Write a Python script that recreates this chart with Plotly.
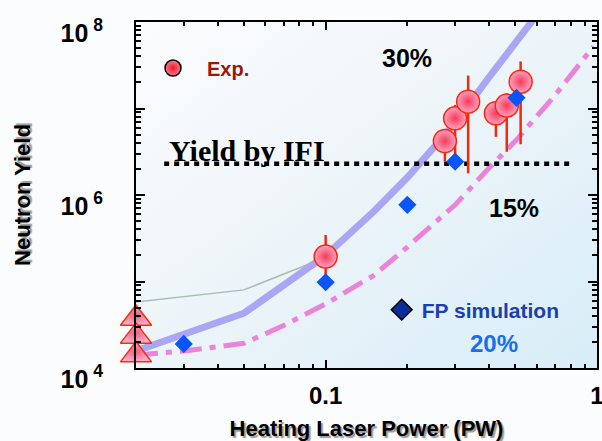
import base64
import plotly.graph_objects as go

# ---------------- data ----------------
# Experimental neutron yield (red circles) with asymmetric error bars
exp_x = [0.1, 0.275, 0.30, 0.335, 0.424, 0.465, 0.523]
exp_y = [1.94e5, 4.2e6, 7.7e6, 1.2e7, 8.8e6, 1.08e7, 2.04e7]
exp_hi = [3.45e5, 4.2e6, 1.1e7, 2.4e7, 8.8e6, 1.5e7, 3.5e7]
exp_lo = [1.19e5, 2.43e6, 2.9e6, 1.78e6, 4.7e6, 3.16e6, 3.86e6]

# Triangles on the left axis
tri_x = [0.02, 0.02, 0.02]
tri_y = [3.74e4, 2.32e4, 1.41e4]

# FP simulation (blue diamonds)
fp_x = [0.030, 0.10, 0.20, 0.30, 0.505]
fp_y = [1.9e4, 9.8e4, 7.7e5, 2.43e6, 1.33e7]

# 30% coupling curve (lavender)
c30_x = [0.02, 0.05, 0.1, 0.15, 0.2, 0.3, 0.4, 0.5, 0.58]
c30_y = [1.57e4, 4.3e4, 2.0e5, 6.4e5, 1.59e6, 6.8e6, 2.3e7, 5.6e7, 1.05e8]

# 15% coupling curve (pink dash-dot)
c15_x = [0.02, 0.03, 0.05, 0.07, 0.1, 0.15, 0.2, 0.3, 0.4, 0.5, 0.7, 0.97]
c15_y = [1.41e4, 1.57e4, 1.93e4, 3.1e4, 5.5e4, 1.17e5, 2.5e5, 7.7e5, 2.05e6, 4.2e6, 1.42e7, 5.2e7]

# thin grey curve
grey_x = [0.02, 0.05, 0.085, 0.1]
grey_y = [5.8e4, 8.0e4, 1.55e5, 2.0e5]

# "Yield by IFI" level
ifi_x = [0.0254, 0.815]
ifi_y = [2.3e6, 2.3e6]

# axis ticks
x_tickvals = [0.1, 1]
x_ticktext = ["<b>0.1</b>", "<b>1</b>"]
x_minor = [0.03, 0.04, 0.05, 0.06, 0.07, 0.08, 0.09,
           0.2, 0.3, 0.4, 0.5, 0.6, 0.7, 0.8, 0.9]
y_tickvals = [1e4, 1e5, 1e6, 1e7, 1e8]
y_ticktext = ["<b>10<sup> 4</sup></b>", " ", "<b>10<sup> 6</sup></b>", " ", "<b>10<sup> 8</sup></b>"]
y_minor = [m * 10 ** e for e in range(4, 8) for m in range(2, 10)]

FONT = "Liberation Sans"

# background gradient image (style only)
svg = ("<svg xmlns='http://www.w3.org/2000/svg' width='100' height='100' viewBox='0 0 100 100' "
       "preserveAspectRatio='none'><defs><linearGradient id='g' x1='0' y1='0' x2='1' y2='1'>"
       "<stop offset='0' stop-color='#fbfcfd'/><stop offset='0.45' stop-color='#eef5f9'/>"
       "<stop offset='1' stop-color='#d7edf8'/></linearGradient></defs>"
       "<rect width='100' height='100' fill='url(#g)'/></svg>")
svg_uri = "data:image/svg+xml;base64," + base64.b64encode(svg.encode()).decode()

fig = go.Figure()

fig.add_trace(go.Scatter(x=grey_x, y=grey_y, mode="lines",
                         line=dict(color="#a9bdb4", width=1.5),
                         showlegend=False, hoverinfo="skip"))
fig.add_trace(go.Scatter(x=c30_x, y=c30_y, mode="lines",
                         line=dict(color="#aaa6f3", width=7),
                         showlegend=False, name="30%"))
fig.add_trace(go.Scatter(x=c15_x, y=c15_y, mode="lines",
                         line=dict(color="#ea84da", width=5, dash="22px,8px,6px,8px"),
                         showlegend=False, name="15%"))
fig.add_trace(go.Scatter(x=ifi_x, y=ifi_y, mode="lines",
                         line=dict(color="black", width=4.5, dash="5px,5px"),
                         showlegend=False, name="Yield by IFI"))
fig.add_trace(go.Scatter(x=tri_x, y=tri_y, mode="markers", cliponaxis=False,
                         marker=dict(symbol="triangle-up", size=27, color="#f9b0cc",
                                     gradient=dict(type="radial", color="#e8607e"),
                                     line=dict(color="#ff2a0a", width=1.5)),
                         showlegend=False))
fig.add_trace(go.Scatter(
    x=exp_x, y=exp_y, mode="markers", name="Exp.", showlegend=False,
    error_y=dict(type="data", symmetric=False,
                 array=[h - y for h, y in zip(exp_hi, exp_y)],
                 arrayminus=[y - l for y, l in zip(exp_y, exp_lo)],
                 color="#f5280e", thickness=2.5, width=0),
    marker=dict(symbol="circle", size=23, color="#ffa3c2",
                gradient=dict(type="radial", color="#f73a58"),
                line=dict(color="#ff2408", width=1.5))))
fig.add_trace(go.Scatter(x=fp_x, y=fp_y, mode="markers", name="FP simulation",
                         showlegend=False,
                         marker=dict(symbol="diamond", size=14, color="#0a55f5",
                                     line=dict(width=0))))

# legend entries
fig.add_trace(go.Scatter(x=[None], y=[None], mode="markers", name="<b>Exp.</b>",
                         legend="legend",
                         marker=dict(symbol="circle", size=22, color="#ff7a8c",
                                     gradient=dict(type="radial", color="#e81a28"),
                                     line=dict(color="black", width=1.5))))
fig.add_trace(go.Scatter(x=[None], y=[None], mode="markers", name="<b>FP simulation</b>",
                         legend="legend2",
                         marker=dict(symbol="diamond", size=17, color="#0a2c9c",
                                     line=dict(color="black", width=1.5))))

axis_common = dict(type="log", showline=True, linecolor="black", linewidth=2,
                   mirror="ticks", ticks="inside", tickcolor="black", showgrid=False,
                   zeroline=False, tickmode="array", automargin=False,
                   ticklabeloverflow="allow")

fig.update_xaxes(**axis_common, range=[-1.699, 0], tickvals=x_tickvals, ticktext=x_ticktext,
                 ticklen=8, tickwidth=1.5, ticklabelstandoff=5,
                 tickfont=dict(family=FONT, size=24, color="black"),
                 minor=dict(tickmode="array", tickvals=x_minor, ticks="inside", ticklen=4,
                            tickwidth=1.5, tickcolor="black", showgrid=False),
                 title=dict(text="<b>Heating Laser Power (PW)</b>", standoff=15,
                            font=dict(family=FONT, size=22, color="black",
                                      shadow="2px 2px 1px #9a9a9a")))
fig.update_yaxes(**axis_common, range=[4, 8], tickvals=y_tickvals, ticktext=y_ticktext,
                 ticklen=9, tickwidth=1.5, ticklabelstandoff=26, ticklabelshift=11,
                 tickfont=dict(family=FONT, size=25, color="black"),
                 minor=dict(tickmode="array", tickvals=y_minor, ticks="inside", ticklen=5,
                            tickwidth=1.5, tickcolor="black", showgrid=False),
                 title=dict(text="<b>Neutron Yield</b>", standoff=24,
                            font=dict(family=FONT, size=22, color="black",
                                      shadow="2px 2px 1px #9a9a9a")))

annos = [
    dict(text="<b>30%</b>", x=0.587, y=0.896, size=25, color="black", family=FONT),
    dict(text="<b>15%</b>", x=0.820, y=0.462, size=25, color="black", family=FONT),
    dict(text="<b>20%</b>", x=0.7766, y=0.0694, size=24, color="#1a6cf2", family=FONT),
    dict(text="<b>Yield by IFI</b>", x=0.2397, y=0.630, size=30, color="black",
         family="Liberation Serif"),
]
for a in annos:
    fig.add_annotation(text=a["text"], x=a["x"], y=a["y"], xref="paper", yref="paper",
                       xanchor="center", yanchor="middle", showarrow=False,
                       font=dict(family=a["family"], size=a["size"], color=a["color"]))

fig.update_layout(
    width=602, height=441,
    margin=dict(l=136, r=5, t=22, b=73, autoexpand=False),
    paper_bgcolor="#fbfcfd", plot_bgcolor="#eef5f9",
    images=[dict(source=svg_uri, xref="paper", yref="paper", x=0, y=1, sizex=1, sizey=1,
                 xanchor="left", yanchor="top", sizing="stretch", layer="below")],
    legend=dict(x=0.0065, y=0.867, xanchor="left", yanchor="middle", itemwidth=58,
                bgcolor="rgba(0,0,0,0)", borderwidth=0,
                font=dict(family=FONT, size=20, color="#9a1808")),
    legend2=dict(x=0.533, y=0.1676, xanchor="left", yanchor="middle", itemwidth=30,
                 bgcolor="rgba(0,0,0,0)", borderwidth=0,
                 font=dict(family=FONT, size=21, color="#1d3fae")),
    showlegend=True,
)

fig.write_html("out.html", config={"displayModeBar": False},
               post_script="document.body.style.margin='0';document.body.style.padding='0';"
                           "document.documentElement.style.overflow='hidden';")
